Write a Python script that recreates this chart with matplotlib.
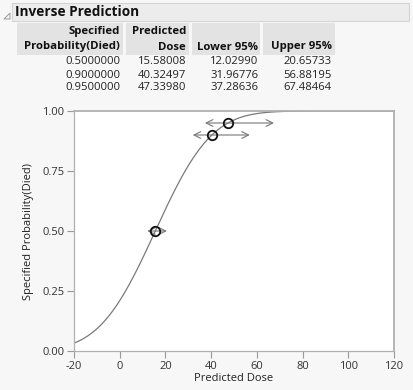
import math
import numpy as np
import matplotlib
matplotlib.use("Agg")
import matplotlib.pyplot as plt
from matplotlib.patches import Rectangle, Polygon

# ---- data ----
prob = [0.5, 0.9, 0.95]
pred_dose = [15.58008, 40.32497, 47.33980]
lower95 = [12.02990, 31.96776, 37.28636]
upper95 = [20.65733, 56.88195, 67.48464]
col_headers = [("Specified", "Probability(Died)"), ("Predicted", "Dose"), ("", "Lower 95%"), ("", "Upper 95%")]
x_ticks = [-20, 0, 20, 40, 60, 80, 100, 120]
y_ticks = [0.0, 0.25, 0.5, 0.75, 1.0]

W, H = 413, 390
fig = plt.figure(figsize=(W / 100, H / 100), dpi=100)
fig.patch.set_facecolor("#f7f7f7")
FONT = "Open Sans"

def px(x, y):
    return x / W, 1 - y / H

# header bar
fig.patches.append(Rectangle(px(12, 21), (409 - 12) / W, 18 / H, transform=fig.transFigure,
                             facecolor="#ececec", edgecolor="#d4d4d4", lw=0.8))
tri = Polygon([px(4, 19), px(10, 19), px(10, 13)], closed=True, transform=fig.transFigure,
              facecolor="none", edgecolor="#999999", lw=0.7)
fig.patches.append(tri)
fig.text(*px(15, 12.5), "Inverse Prediction", fontsize=9.8, fontweight="bold", family=FONT,
         ha="left", va="center", color="#111111")

# table header background
col_edges = [(17, 123), (126, 189), (192, 260), (263, 335)]
for (a, b) in col_edges:
    fig.patches.append(Rectangle(px(a, 55), (b - a) / W, 32 / H, transform=fig.transFigure,
                                 facecolor="#e3e3e3", edgecolor="none"))
right_x = [120, 186, 258, 332]
for (h1, h2), rx in zip(col_headers, right_x):
    if h1:
        fig.text(*px(rx, 31.5), h1, fontsize=8.2, fontweight="bold", family=FONT, ha="right", va="center", color="#111111")
    fig.text(*px(rx, 47), h2, fontsize=8.2, fontweight="bold", family=FONT, ha="right", va="center", color="#111111")

rows_y = [62, 75, 88]
for i, ry in enumerate(rows_y):
    vals = [f"{prob[i]:.7f}", f"{pred_dose[i]:.5f}", f"{lower95[i]:.5f}", f"{upper95[i]:.5f}"]
    for v, rx in zip(vals, right_x):
        fig.text(*px(rx, ry), v, fontsize=8.1, family=FONT, ha="right", va="center", color="#222222")

# plot
l, b_ = px(74, 351)
r, t = px(394, 111)
ax = fig.add_axes([l, b_, r - l, t - b_])
ax.set_facecolor("white")

# fitted probit curve implied by the table (location = predicted dose at p=0.5)
mu = pred_dose[0]
sigma = (pred_dose[1] - pred_dose[0]) / 1.2815516
xs = np.linspace(-20, 120, 400)
ys = np.array([0.5 * (1 + math.erf((x - mu) / (sigma * math.sqrt(2)))) for x in xs])
ax.plot(xs, ys, color="#7a7a7a", lw=0.9, zorder=2)

for p, d, lo, hi in zip(prob, pred_dose, lower95, upper95):
    ax.annotate("", xy=(hi, p), xytext=(lo, p),
                arrowprops=dict(arrowstyle="<->", color="#777777", lw=0.8, mutation_scale=12,
                                shrinkA=0, shrinkB=0), zorder=3)
ax.plot(pred_dose, prob, linestyle="none", marker="o", markersize=6.8, markerfacecolor="none",
        markeredgecolor="#111111", markeredgewidth=1.3, zorder=4)

ax.set_xlim(-20, 120)
ax.set_ylim(0, 1)
ax.set_xticks(x_ticks)
ax.set_yticks(y_ticks)
ax.set_xticklabels([str(v) for v in x_ticks], family=FONT, fontsize=8, color="#333333")
ax.set_yticklabels([f"{v:.2f}" for v in y_ticks], family=FONT, fontsize=8, color="#333333")
ax.tick_params(direction="out", length=5, width=0.8, color="#999999", pad=2)
for s in ax.spines.values():
    s.set_color("#b0b0b0")
    s.set_linewidth(0.9)
ax.spines["top"].set_linewidth(1.3)
ax.spines["right"].set_linewidth(1.3)
ax.set_xlabel("Predicted Dose", family=FONT, fontsize=8, color="#222222", labelpad=1)
ax.set_ylabel("Specified Probability(Died)", family=FONT, fontsize=8, color="#222222", labelpad=6)

fig.savefig("out.png", dpi=100, facecolor=fig.get_facecolor())
